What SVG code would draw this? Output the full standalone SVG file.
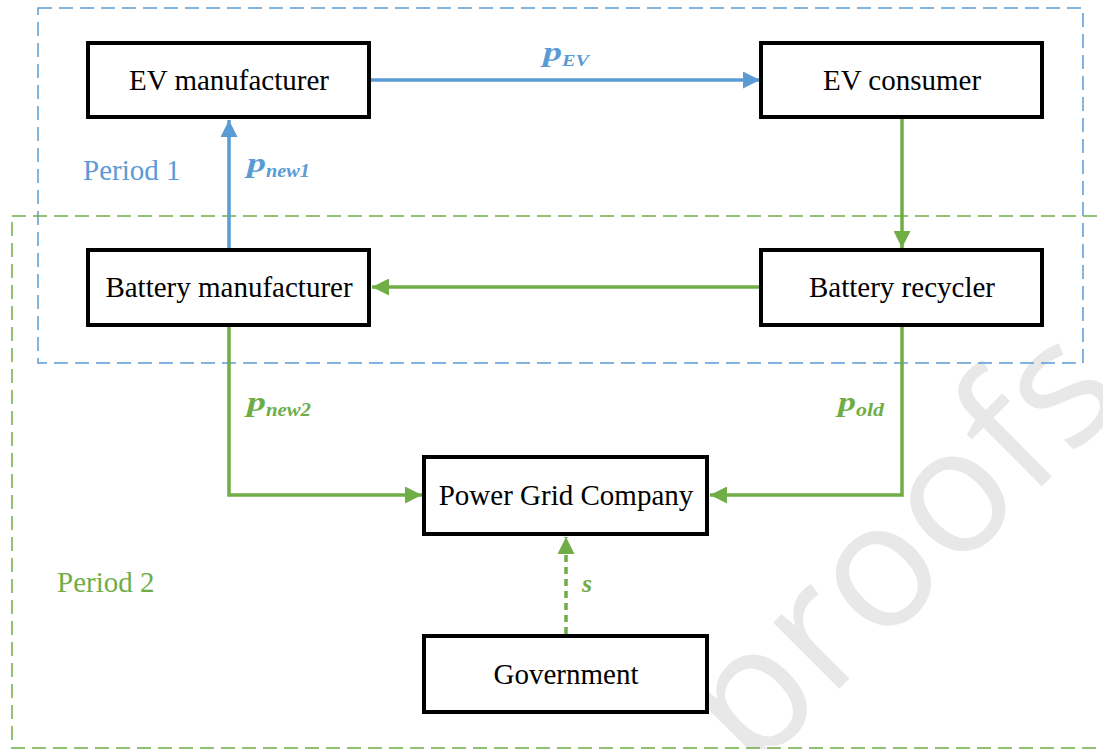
<svg xmlns="http://www.w3.org/2000/svg" width="1103" height="749" viewBox="0 0 1103 749">
<style>
.node rect{fill:#fff;stroke:#000;stroke-width:4}
.node text{font-family:"Liberation Serif",serif;font-size:29px;fill:#000;text-anchor:middle}
.blue{stroke:#5b9bd5}
.green{stroke:#70ad47}
.conn path{fill:none;stroke-width:3.5}
.lbl{font-family:"Liberation Serif",serif;font-weight:bold;font-style:italic}
.pv{font-size:27px}
.sb{font-size:18px}
.period{font-family:"Liberation Serif",serif;font-size:29px}
</style>
<defs>
<marker id="ab" markerUnits="userSpaceOnUse" markerWidth="18" markerHeight="17" refX="17" refY="8.5" orient="auto" viewBox="0 0 18 17"><path d="M0,0 L17,8.5 L0,17 z" fill="#5b9bd5"/></marker>
<marker id="ag" markerUnits="userSpaceOnUse" markerWidth="18" markerHeight="17" refX="17" refY="8.5" orient="auto" viewBox="0 0 18 17"><path d="M0,0 L17,8.5 L0,17 z" fill="#70ad47"/></marker>
</defs>
<rect width="1103" height="749" fill="#fff"/>
<text x="753" y="775" transform="rotate(-45 753 775)" font-family="Open Sans,sans-serif" font-size="175" fill="#e8e8e8">proofs</text>
<g id="period1">
<rect x="38" y="8" width="1045" height="355" fill="none" stroke="#5b9bd5" stroke-width="1.5" stroke-dasharray="14 7"/>
<text class="period" x="83" y="180" fill="#5b9bd5">Period 1</text>
</g>
<g id="period2">
<rect x="12" y="216" width="1095" height="532" fill="none" stroke="#70ad47" stroke-width="1.5" stroke-dasharray="14 7"/>
<text class="period" x="57" y="592" fill="#70ad47">Period 2</text>
</g>
<g id="connectors" class="conn">
<path class="blue" d="M371,80 L760,80" marker-end="url(#ab)"/>
<path class="green" d="M902,119 L902,248" marker-end="url(#ag)"/>
<path class="green" d="M759,287 L372,287" marker-end="url(#ag)"/>
<path class="blue" d="M229,248 L229,120" marker-end="url(#ab)"/>
<path class="green" d="M229,327 L229,495 L422,495" marker-end="url(#ag)"/>
<path class="green" d="M902,327 L902,495 L710,495" marker-end="url(#ag)"/>
<path class="green" d="M566,634 L566,537" stroke-width="4" stroke-dasharray="7 5" marker-end="url(#ag)"/>
<g id="label-pEV" class="lbl" fill="#5b9bd5">
<text class="pv" x="543" y="61" textLength="19" lengthAdjust="spacingAndGlyphs">p</text>
<text x="562" y="66" font-size="16" textLength="27" lengthAdjust="spacingAndGlyphs">EV</text>
</g>
<g id="label-pnew1" class="lbl" fill="#5b9bd5">
<text class="pv" x="247" y="172" textLength="19" lengthAdjust="spacingAndGlyphs">p</text>
<text class="sb" x="266" y="177" textLength="44" lengthAdjust="spacingAndGlyphs">new1</text>
</g>
<g id="label-pnew2" class="lbl" fill="#70ad47">
<text class="pv" x="247" y="411" textLength="19" lengthAdjust="spacingAndGlyphs">p</text>
<text class="sb" x="266" y="416" textLength="45" lengthAdjust="spacingAndGlyphs">new2</text>
</g>
<g id="label-pold" class="lbl" fill="#70ad47">
<text class="pv" x="838" y="411" textLength="18" lengthAdjust="spacingAndGlyphs">p</text>
<text class="sb" x="856" y="416" textLength="28" lengthAdjust="spacingAndGlyphs">old</text>
</g>
<text class="lbl" x="582" y="592" fill="#70ad47" font-size="26">s</text>
</g>
<g id="ev-manufacturer" class="node"><rect x="88" y="43" width="281" height="74"/><text x="229" y="90">EV manufacturer</text></g>
<g id="ev-consumer" class="node"><rect x="761" y="43" width="281" height="74"/><text x="902" y="90">EV consumer</text></g>
<g id="battery-manufacturer" class="node"><rect x="88" y="250" width="281" height="75"/><text x="229" y="297">Battery manufacturer</text></g>
<g id="battery-recycler" class="node"><rect x="761" y="250" width="281" height="75"/><text x="902" y="297">Battery recycler</text></g>
<g id="power-grid" class="node"><rect x="424" y="457" width="283" height="77"/><text x="566" y="505">Power Grid Company</text></g>
<g id="government" class="node"><rect x="424" y="636" width="283" height="76"/><text x="566" y="684">Government</text></g>
</svg>
